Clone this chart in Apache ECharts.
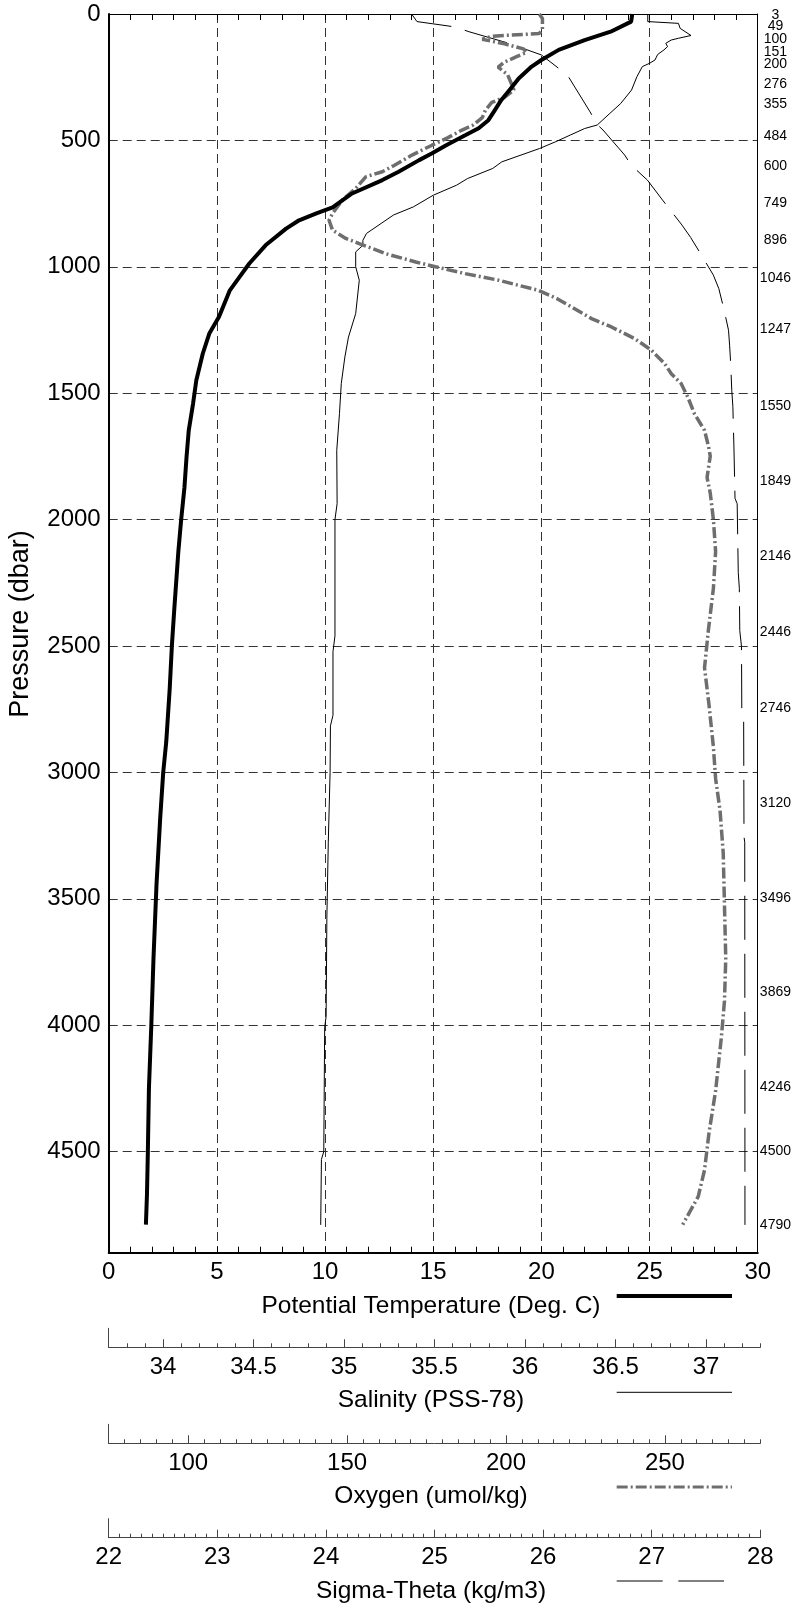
<!DOCTYPE html>
<html><head><meta charset="utf-8">
<script src="https://cdn.jsdelivr.net/npm/echarts@6/dist/echarts.min.js"></script>
<style>html,body{margin:0;padding:0;background:#fff}#c{width:794px;height:1608px}</style>
</head><body><div id="c"></div>
<script>
// ---- data ----
const tempP = [0,30,70,103,142,182,208,255,288,340,380,420,452,479,519,551,578,624,657,710,765,789,816,849,915,987,1040,1093,1198,1264,1343,1449,1541,1647,1750,1874,2000,2126,2356,2500,2669,2879,3000,3182,3443,3736,4000,4249,4500,4667,4789];
const tempV = [24.2,24.15,23.2,22.0,20.8,20.0,19.55,18.95,18.65,18.15,17.85,17.55,17.1,16.5,15.6,14.95,14.35,13.4,12.65,11.25,10.35,9.6,8.8,8.2,7.25,6.5,6.05,5.6,5.1,4.65,4.35,4.05,3.9,3.7,3.6,3.5,3.35,3.22,3.03,2.92,2.82,2.66,2.52,2.38,2.21,2.07,1.97,1.86,1.81,1.77,1.72];

const salP = [0,30,37,57,85,92,96,103,116,129,142,160,182,195,208,248,301,354,393,439,453,479,505,532,585,611,651,677,717,763,795,868,895,915,941,1000,1053,1185,1278,1357,1462,1581,1726,1937,2000,2460,2523,2774,2816,3000,3276,3579,3966,4008,4500,4531,4790];
const salV = [36.69,36.69,36.86,36.87,36.93,36.92,36.86,36.82,36.79,36.80,36.78,36.745,36.73,36.70,36.66,36.63,36.60,36.54,36.48,36.41,36.34,36.26,36.18,36.09,35.88,35.83,35.69,35.63,35.50,35.39,35.28,35.13,35.11,35.11,35.07,35.07,35.09,35.07,35.03,35.01,34.99,34.98,34.965,34.967,34.955,34.955,34.944,34.944,34.93,34.928,34.918,34.91,34.906,34.898,34.893,34.88,34.876];

const oxyP = [0,18,60,77,88,100,118,138,152,168,190,210,240,270,300,330,350,380,410,440,459,490,519,558,600,624,644,690,736,789,816,855,888,908,948,981,1000,1027,1053,1093,1125,1159,1205,1238,1284,1330,1383,1423,1462,1515,1581,1647,1713,1749,1833,1895,2000,2126,2272,2439,2586,2732,2900,3025,3151,3318,3527,3736,3904,4050,4259,4427,4573,4678,4789];
const oxyV = [211,212,212,211,196,193,200,206,207,204,200,198,201,202,203,200,196,194,193,190,186.6,182,177.1,170.8,165,161.4,156.2,153,148.8,145.7,144.6,145.7,149.9,154.1,162.5,172,178.2,187.6,198.1,210.7,216.5,221.2,227.5,233.8,241.1,246.4,250.6,252.7,255.8,257.9,260,263.2,264.5,265,264,265,266,266.7,266,264.4,263.2,264.6,266,266.7,268.1,269.1,269.5,269.9,269.5,268.5,266.7,264.6,263.2,261.2,256.3];

const sigP = [0,30,51,70,116,162,215,248,387,439,459,558,598,657,736,835,884,947,1033,1086,1172,1251,1310,1383,1489,1552,1713,1916,1937,2209,2272,2439,2502,2774,2795,3255,3276,4790];
const sigV = [24.80,24.85,25.20,25.33,25.70,26.00,26.16,26.25,26.45,26.52,26.57,26.77,26.83,26.98,27.12,27.30,27.38,27.47,27.59,27.64,27.69,27.73,27.74,27.75,27.76,27.77,27.78,27.79,27.81,27.82,27.83,27.834,27.85,27.853,27.87,27.873,27.88,27.882];

const bottleP = [3,49,100,151,200,276,355,484,600,749,896,1046,1247,1550,1849,2146,2446,2746,3120,3496,3869,4246,4500,4790];

const presTicks = [0,500,1000,1500,2000,2500,3000,3500,4000,4500];
const tempTicks = [0,5,10,15,20,25,30];
const salTicks = [34,34.5,35,35.5,36,36.5,37];
const oxyTicks = [100,150,200,250];
const sigTicks = [22,23,24,25,26,27,28];

// ---- helpers ----
function pairs(v, p) { return v.map((x, i) => [x, p[i]]); }
function minorVals(min, max, step) {
  const out = [];
  for (let k = Math.ceil(min / step - 1e-9); k * step <= max + 1e-9; k++) out.push(Math.round(k * step * 1000) / 1000);
  return out;
}
const plain = v => String(v);

const FONT = '"Liberation Sans", Arial, Helvetica, sans-serif';
const L = 108.7, W = 651.6;
const GRIDC = '#333';

function bottomAxes(grid, min, max, majors, minorStep) {
  return [
    { type: 'value', gridIndex: grid, min: min, max: max, position: 'bottom',
      axisLine: { onZero: false, lineStyle: { color: '#444', width: 1 } },
      axisTick: { inside: true, length: 8, customValues: majors, lineStyle: { color: '#444', width: 1 } },
      axisLabel: { customValues: majors, formatter: plain, showMinLabel: true, showMaxLabel: true, hideOverlap: false,
                   fontSize: 24, margin: 8, color: '#000', fontFamily: FONT },
      splitLine: { show: false } },
    { type: 'value', gridIndex: grid, min: min, max: max, position: 'bottom',
      axisLine: { show: false, onZero: false },
      axisTick: { inside: true, length: 4, customValues: minorVals(min, max, minorStep), lineStyle: { color: '#444', width: 1 } },
      axisLabel: { show: false },
      splitLine: { show: false } }
  ];
}
function leftStub(grid) {
  return { type: 'value', gridIndex: grid, min: 0, max: 1,
    axisLine: { show: true, onZero: false, lineStyle: { color: '#444', width: 1 } },
    axisTick: { show: false }, axisLabel: { show: false }, splitLine: { show: false } };
}
// bottle labels on the right edge; split into two interleaved axes so close labels are not dropped
function bottleAxis(values, showLine) {
  return { type: 'value', gridIndex: 0, inverse: true, min: 0, max: 4900, position: 'right',
    axisLine: { show: showLine, onZero: false, lineStyle: { color: '#000', width: 1 } },
    axisTick: { show: false }, splitLine: { show: false },
    axisLabel: { customValues: values, formatter: plain, showMinLabel: true, showMaxLabel: true, hideOverlap: false,
                 fontSize: 14, align: 'center', margin: 17.7, color: '#000', fontFamily: FONT } };
}

const chart = echarts.init(document.getElementById('c'), null, { renderer: 'canvas' });

const option = {
  animation: false,
  backgroundColor: '#fff',
  grid: [
    { left: L, top: 14, width: W, height: 1238.7 },
    { left: L, top: 1328.3, width: W, height: 19 },
    { left: L, top: 1424.3, width: W, height: 19 },
    { left: L, top: 1518.7, width: W, height: 19 }
  ],
  xAxis: [
    { type: 'value', gridIndex: 0, min: 0, max: 30, interval: 5, position: 'bottom',
      axisLine: { onZero: false, lineStyle: { color: '#000', width: 2 } },
      axisTick: { inside: true, length: 6, lineStyle: { color: '#000', width: 1 } },
      minorTick: { show: true, splitNumber: 5, length: 6, lineStyle: { color: '#000', width: 1 } },
      axisLabel: { customValues: tempTicks, formatter: plain, showMinLabel: true, showMaxLabel: true,
                   fontSize: 24, margin: 8, color: '#000', fontFamily: FONT },
      splitLine: { show: true, lineStyle: { type: [9, 5], color: GRIDC, width: 1 } } },
    { type: 'value', gridIndex: 0, min: 0, max: 30, interval: 1, position: 'top',
      axisLine: { onZero: false, lineStyle: { color: '#000', width: 1 } },
      axisTick: { inside: true, length: 6, lineStyle: { color: '#000', width: 1 } },
      axisLabel: { show: false }, splitLine: { show: false } },
    { type: 'value', gridIndex: 0, min: 33.7, max: 37.3, show: false },
    { type: 'value', gridIndex: 0, min: 75, max: 280, show: false },
    { type: 'value', gridIndex: 0, min: 22, max: 28, show: false },
    ...bottomAxes(1, 33.7, 37.3, salTicks, 0.1),
    ...bottomAxes(2, 75, 280, oxyTicks, 5),
    ...bottomAxes(3, 22, 28, sigTicks, 0.1)
  ],
  yAxis: [
    { type: 'value', gridIndex: 0, inverse: true, min: 0, max: 4900, interval: 500,
      axisLine: { onZero: false, lineStyle: { color: '#000', width: 2 } },
      axisTick: { show: false },
      axisLabel: { customValues: presTicks, formatter: plain, showMinLabel: true, showMaxLabel: true,
                   fontSize: 24, margin: 8, color: '#000', fontFamily: FONT },
      splitLine: { show: true, lineStyle: { type: [9, 5], color: GRIDC, width: 1 } } },
    bottleAxis(bottleP.filter((_, i) => i % 2 === 0), true),
    leftStub(1), leftStub(2), leftStub(3),
    bottleAxis(bottleP.filter((_, i) => i % 2 === 1), false)
  ],
  series: [
    { name: 'Sigma-Theta', type: 'line', xAxisIndex: 4, yAxisIndex: 0, data: pairs(sigV, sigP),
      symbol: 'none', lineStyle: { color: '#000', width: 1, type: [44, 14] }, z: 3 },
    { name: 'Salinity', type: 'line', xAxisIndex: 2, yAxisIndex: 0, data: pairs(salV, salP),
      symbol: 'none', lineStyle: { color: '#000', width: 1 }, z: 3 },
    { name: 'Oxygen', type: 'line', xAxisIndex: 3, yAxisIndex: 0, data: pairs(oxyV, oxyP),
      symbol: 'none', lineStyle: { color: '#6e6e6e', width: 3.5, type: [11, 3, 2, 3] }, z: 4 },
    { name: 'Potential Temperature', type: 'line', xAxisIndex: 0, yAxisIndex: 0, data: pairs(tempV, tempP),
      symbol: 'none', lineStyle: { color: '#000', width: 4 }, z: 5 }
  ],
  graphic: [
    { type: 'text', x: 20.7, y: 624, rotation: Math.PI / 2,
      style: { text: 'Pressure (dbar)', fill: '#000', font: '27px ' + FONT, align: 'center', verticalAlign: 'middle', textAlign: 'center', textVerticalAlign: 'middle' } },
    { type: 'text', x: 431, y: 1306.5,
      style: { text: 'Potential Temperature (Deg. C)', fill: '#000', font: '24.5px ' + FONT, align: 'center', verticalAlign: 'middle', textAlign: 'center', textVerticalAlign: 'middle' } },
    { type: 'text', x: 431, y: 1400,
      style: { text: 'Salinity (PSS-78)', fill: '#000', font: '24.5px ' + FONT, align: 'center', verticalAlign: 'middle', textAlign: 'center', textVerticalAlign: 'middle' } },
    { type: 'text', x: 431, y: 1496.5,
      style: { text: 'Oxygen (umol/kg)', fill: '#000', font: '24.5px ' + FONT, align: 'center', verticalAlign: 'middle', textAlign: 'center', textVerticalAlign: 'middle' } },
    { type: 'text', x: 431, y: 1591.5,
      style: { text: 'Sigma-Theta (kg/m3)', fill: '#000', font: '24.5px ' + FONT, align: 'center', verticalAlign: 'middle', textAlign: 'center', textVerticalAlign: 'middle' } },
    { type: 'line', shape: { x1: 616.7, y1: 1296, x2: 732, y2: 1296 }, style: { stroke: '#000', lineWidth: 4 } },
    { type: 'line', shape: { x1: 616.7, y1: 1392.3, x2: 732, y2: 1392.3 }, style: { stroke: '#000', lineWidth: 1 } },
    { type: 'line', shape: { x1: 616.7, y1: 1487, x2: 732, y2: 1487 }, style: { stroke: '#6e6e6e', lineWidth: 3, lineDash: [11, 3, 2, 3] } },
    { type: 'line', shape: { x1: 616.7, y1: 1581, x2: 724, y2: 1581 }, style: { stroke: '#000', lineWidth: 1, lineDash: [46, 15.6] } }
  ]
};
chart.setOption(option);
</script>
</body></html>
